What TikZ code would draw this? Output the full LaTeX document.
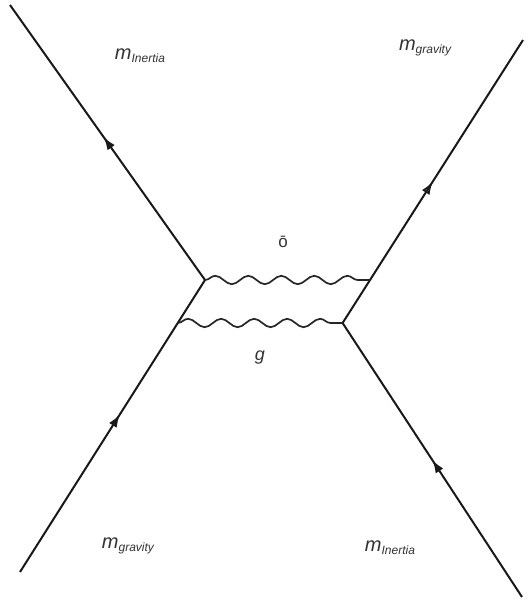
\documentclass[tikz,border=0pt]{standalone}
\usepackage{fontspec}
\setmainfont{Liberation Sans}
\usetikzlibrary{decorations.pathmorphing,decorations.markings,arrows.meta}
\begin{document}
\begin{tikzpicture}[x=1pt,y=-1pt,
  fermion/.style={line width=2pt,draw=black!90},
  photon/.style={line width=1.7pt,draw=black!85,decorate,
    decoration={snake,amplitude=4.2pt,segment length=33pt}},
  lbl/.style={font=\itshape\fontsize{20}{22}\selectfont,inner sep=0pt,text=black!80},
  arrfill/.style={postaction={decorate},decoration={markings,
    mark=at position #1 with {\arrow{Latex[length=13pt,width=9pt]}}}},
  arropen/.style={postaction={decorate},decoration={markings,
    mark=at position #1 with {\arrow{Latex[open,length=13pt,width=9pt,line width=1.8pt]}}}}
]
\useasboundingbox (0,0) rectangle (531,605);
\coordinate (A) at (10,5);
\coordinate (V1) at (205,280);
\coordinate (B) at (20,572);
\coordinate (V3) at (177.8,323);
\coordinate (C) at (523,40);
\coordinate (V2) at (370,280);
\coordinate (V4) at (342.6,323);
\coordinate (D) at (522,597);

\draw[fermion,arrfill=0.52] (V1) -- (A);
\draw[fermion,arrfill=0.54] (B) -- (V1);
\draw[fermion,arropen=0.50] (V4) -- (C);
\draw[fermion,arrfill=0.50] (D) -- (V4);

\draw[photon] (V1) -- (V2);
\draw[photon] (V3) -- (V4);

\newcommand{\msub}[1]{m\raisebox{-3pt}{\fontsize{12}{12}\selectfont #1}}
\node[lbl] (tl) at (140,56) {\msub{Inertia}};
\node[lbl] (tr) at (425,48) {\msub{gravity}};
\node[lbl] (bl) at (128,546) {\msub{gravity}};
\node[lbl] (br) at (390,548) {\msub{Inertia}};
\node[font=\fontsize{17}{18}\selectfont,inner sep=0pt,text=black!80] (d) at (283,242) {ō};
\node[lbl,font=\itshape\fontsize{18}{20}\selectfont] (g) at (260,358) {g};
\end{tikzpicture}
\end{document}
